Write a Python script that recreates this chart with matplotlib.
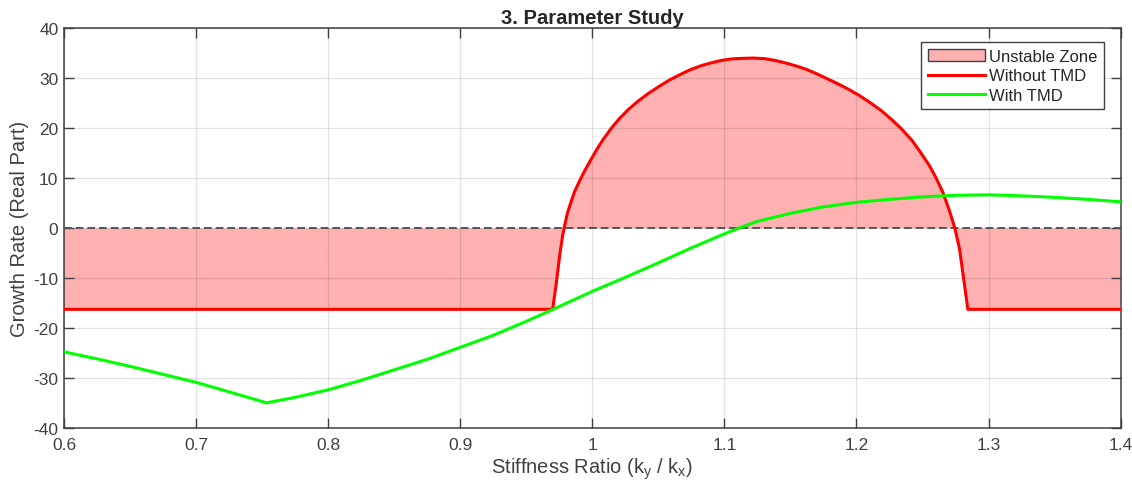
import matplotlib
matplotlib.use("Agg")
import matplotlib.pyplot as plt
import numpy as np
from matplotlib.patches import Patch
from matplotlib.lines import Line2D
from matplotlib.ticker import FuncFormatter

# Growth rate (real part of critical eigenvalue) vs stiffness ratio
ratio_no_tmd = [0.600, 0.970, 0.9728, 0.9755, 0.9775, 0.979, 0.981, 0.9835, 0.9865,
                0.990, 0.994, 0.998, 1.003, 1.008, 1.014, 1.020, 1.027, 1.034,
                1.042, 1.050, 1.058, 1.066, 1.074, 1.082, 1.090, 1.098, 1.106,
                1.114, 1.122, 1.130, 1.138, 1.146, 1.154, 1.162, 1.170, 1.178,
                1.186, 1.194, 1.202, 1.210, 1.218, 1.226, 1.234, 1.242, 1.249,
                1.2553, 1.260, 1.2654, 1.270, 1.2743, 1.278, 1.2843, 1.400]
growth_no_tmd = [-16.2, -16.2, -10.8, -5.0, -1.5, 0.5, 2.9, 5.0, 7.3,
                 9.3, 11.4, 13.3, 15.6, 17.7, 19.9, 21.8, 23.7, 25.3,
                 26.9, 28.3, 29.6, 30.7, 31.7, 32.5, 33.1, 33.6, 33.9,
                 34.0, 34.05, 33.95, 33.6, 33.1, 32.5, 31.8, 30.9, 29.9,
                 28.9, 27.8, 26.6, 25.2, 23.7, 21.9, 19.9, 17.6, 15.0,
                 12.5, 10.2, 7.2, 3.8, 0.2, -4.1, -16.2, -16.2]

ratio_tmd = [0.600, 0.625, 0.650, 0.675, 0.700, 0.725, 0.7534, 0.775, 0.800,
             0.825, 0.850, 0.875, 0.900, 0.925, 0.950, 0.9703, 1.000, 1.025,
             1.050, 1.075, 1.100, 1.1115, 1.125, 1.150, 1.175, 1.200, 1.225,
             1.250, 1.275, 1.300, 1.325, 1.350, 1.375, 1.400]
growth_tmd = [-24.7, -26.1, -27.6, -29.2, -30.8, -32.7, -34.9, -33.8, -32.3,
              -30.4, -28.3, -26.2, -23.8, -21.4, -18.6, -16.2, -12.6, -9.8,
              -6.9, -3.9, -1.1, 0.1, 1.4, 3.0, 4.3, 5.2, 5.8,
              6.3, 6.6, 6.7, 6.5, 6.2, 5.8, 5.3]

x_ticks = [0.6, 0.7, 0.8, 0.9, 1.0, 1.1, 1.2, 1.3, 1.4]
y_ticks = [-40, -30, -20, -10, 0, 10, 20, 30, 40]

plt.rcParams['font.family'] = ['Liberation Sans', 'DejaVu Sans']
plt.rcParams['axes.unicode_minus'] = False
text_col = '#404040'

fig = plt.figure(figsize=(11.32, 4.89), dpi=100)
ax = fig.add_axes([0.0565, 0.122, 0.9335, 0.818])

fill_col = (1.0, 0.69, 0.69)
ax.fill_between(ratio_no_tmd, growth_no_tmd, 0, facecolor=fill_col,
                edgecolor='none', zorder=1)
ax.axhline(0, color='#555555', lw=1.4, ls=(0, (4, 2)), zorder=2.6)
ax.plot(ratio_no_tmd, growth_no_tmd, color=(1, 0, 0), lw=2.2, zorder=3)
ax.plot(ratio_tmd, growth_tmd, color=(0, 1, 0), lw=2.2, zorder=3)

ax.set_xlim(0.6, 1.4)
ax.set_ylim(-40, 40)
ax.set_xticks(x_ticks)
ax.set_yticks(y_ticks)
ax.xaxis.set_major_formatter(FuncFormatter(lambda v, p: f'{v:g}'))

ax.set_axisbelow(False)
ax.grid(True, color='#262626', alpha=0.13, lw=0.9)
ax.tick_params(direction='in', length=7, width=1, colors=text_col,
               labelsize=12.5, top=True, right=True)
ax.tick_params(axis='x', pad=6)
ax.tick_params(axis='y', pad=4)
for s in ax.spines.values():
    s.set_color('#404040')
    s.set_linewidth(1.1)

ax.set_title('3. Parameter Study', fontsize=14.5, fontweight='bold',
             color='#262626', pad=4)
ax.set_xlabel(r'Stiffness Ratio (k$_\mathregular{y}$ / k$_\mathregular{x}$)',
              fontsize=14.5, color=text_col, labelpad=3)
ax.set_ylabel('Growth Rate (Real Part)', fontsize=14.5, color=text_col, labelpad=3)

handles = [Patch(facecolor=fill_col, edgecolor='#404040', lw=1),
           Line2D([], [], color=(1, 0, 0), lw=2.2),
           Line2D([], [], color=(0, 1, 0), lw=2.2)]
labels = ['Unstable Zone', 'Without TMD', 'With TMD']
leg = ax.legend(handles, labels, loc='upper right', fontsize=12,
                frameon=True, fancybox=False, edgecolor='#404040',
                framealpha=1, handlelength=3.4, handletextpad=0.25,
                borderpad=0.4, labelspacing=0.26, borderaxespad=0,
                bbox_to_anchor=(0.984, 0.965))
leg.get_frame().set_linewidth(1.0)
for t in leg.get_texts():
    t.set_color('#262626')

fig.savefig('out.png', dpi=100)
